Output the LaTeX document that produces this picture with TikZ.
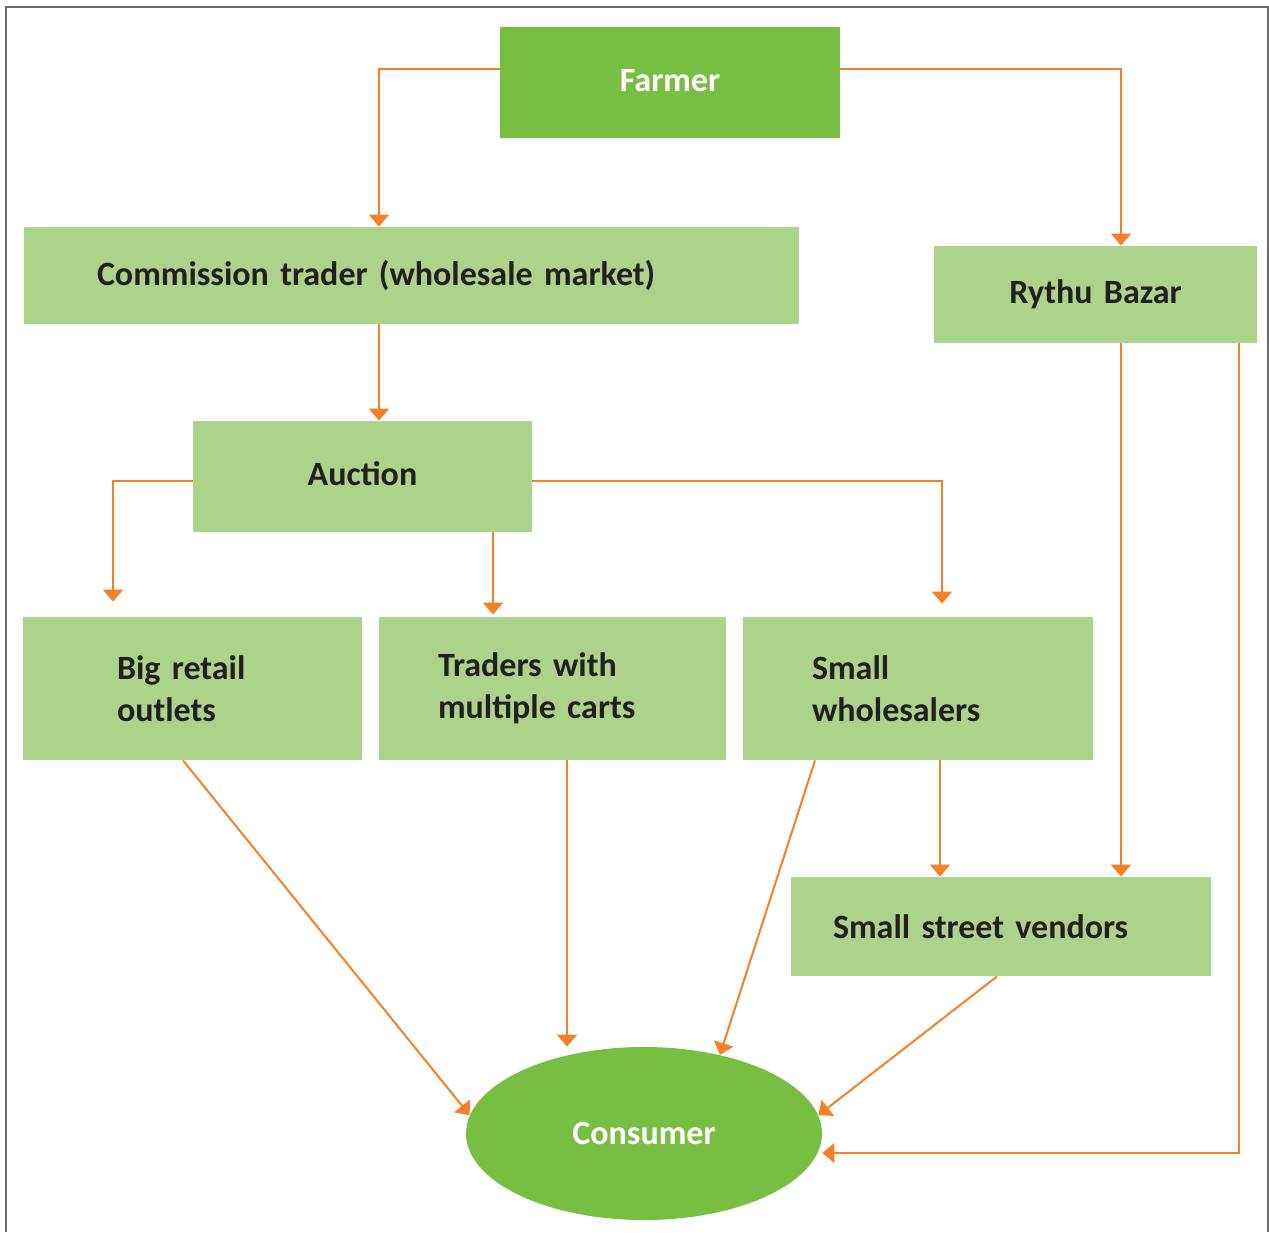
\documentclass[tikz,border=0pt]{standalone}
\usepackage{fontspec}
\setmainfont{Carlito}
\usetikzlibrary{positioning,arrows.meta,shapes.geometric}

\definecolor{darkgreen}{RGB}{119,190,67}
\definecolor{lightgreen}{RGB}{171,211,138}
\definecolor{arroworange}{RGB}{245,128,37}
\definecolor{textdark}{RGB}{35,31,32}
\definecolor{framegray}{RGB}{105,105,105}

\begin{document}
\begin{tikzpicture}[x=0.5pt, y=-0.5pt,
        block/.style = {rectangle, fill=lightgreen, text=textdark, inner ysep=0pt, font=\bfseries\fontsize{17}{21}\selectfont},
        topblock/.style = {block, fill=darkgreen, text=white, align=center, text width=150pt, inner xsep=10pt, minimum height=55.5pt},
        line/.style = {draw=arroworange, line width=1pt, -{Triangle[length=6pt,width=10pt]}} % orange connectors
    ]
        \useasboundingbox (0,0) rectangle (1269,1232);
        % Frame
        \draw[framegray, line width=1pt] (6,1232) -- (6,7) -- (1268,7) -- (1268,1232);

        % Nodes
        \node [topblock] (farmer) at (670,82.5) {\raisebox{2pt}{Farmer}};
        \node [block, align=left, text width=314.5pt, inner xsep=36.5pt, minimum height=48.5pt] (trader) at (411.5,275.5) {Commission trader (wholesale market)};
        \node [block, align=center, text width=141.5pt, inner xsep=10pt, minimum height=48.5pt] (bazar) at (1095.5,294.5) {Rythu Bazar};
        \node [block, align=center, text width=149.5pt, inner xsep=10pt, minimum height=55.5pt] (auction) at (362.5,476.5) {\raisebox{3pt}{Auction}};
        \node [block, align=left, text width=75.5pt, inner xsep=47pt, minimum height=71.5pt] (retail) at (192.5,688.5) {Big retail\\outlets};
        \node [block, align=left, text width=114.5pt, inner xsep=29.5pt, minimum height=71.5pt] (carts) at (552.5,688.5) {Traders with\\multiple carts};
        \node [block, align=left, text width=106pt, inner xsep=34.5pt, minimum height=71.5pt] (wholesalers) at (918,688.5) {\raisebox{-3pt}{\parbox{106pt}{Small\\wholesalers}}};
        \node [block, align=left, text width=168pt, inner xsep=21pt, minimum height=49.5pt] (vendors) at (1001,926.5) {Small street vendors};
        \node [ellipse, fill=darkgreen, text=white, minimum width=178pt, minimum height=86.5pt, inner sep=0pt, font=\bfseries\fontsize{17}{21}\selectfont] (consumer) at (644,1133.5) {Consumer};

        % Lines
        \draw [line] ([yshift=6.75pt]farmer.west) -| ([xshift=-16.25pt]trader.north);
        \draw [line] ([yshift=6.75pt]farmer.east) -| ([xshift=12.75pt]bazar.north);
        \draw [line] ([xshift=-16.25pt]trader.south) -- ([xshift=-16.25pt]trader.south |- auction.north);
        \draw [line, shorten >=7.5pt] ([yshift=-2.25pt]auction.west) -| ([xshift=-39.75pt]retail.north);
        \draw [line, shorten >=1pt] ([xshift=65.25pt]auction.south) -- ([xshift=65.25pt]auction.south |- carts.north);
        \draw [line, shorten >=6.5pt] ([yshift=-2.25pt]auction.east) -| ([xshift=12pt]wholesalers.north);
        \draw [line] ([xshift=-4.75pt]retail.south) -- (consumer.174);
        \draw [line] ([xshift=7.25pt]carts.south) -- ([xshift=7.25pt]carts.south |- consumer.north);
        \draw [line] ([xshift=-51.5pt]wholesalers.south) -- (consumer.46);
        \draw [line] ([xshift=11pt]wholesalers.south) -- ([xshift=11pt]wholesalers.south |- vendors.north);
        \draw [line] ([xshift=12.75pt]bazar.south) -- ([xshift=12.75pt]bazar.south |- vendors.north);
        \draw [line] ([xshift=71.75pt]bazar.south) |- ([yshift=-9.75pt]consumer.east);
        \draw [line] ([xshift=-2pt]vendors.south) -- (consumer.6);
    \end{tikzpicture}
\end{document}
